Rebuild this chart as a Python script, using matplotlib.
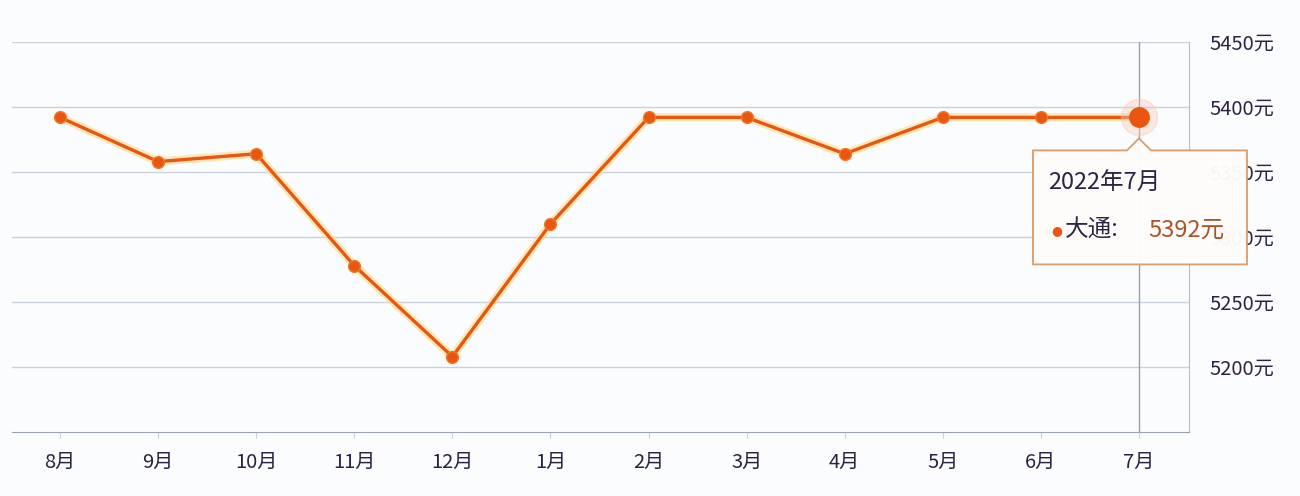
import matplotlib.pyplot as plt
from matplotlib.patches import Polygon

plt.rcParams['font.family'] = ['Noto Sans CJK SC', 'DejaVu Sans']

# ----------------------------------------------------------------
# data
# ----------------------------------------------------------------
months = ["8月", "9月", "10月", "11月", "12月", "1月",
          "2月", "3月", "4月", "5月", "6月", "7月"]
prices = [5392, 5358, 5364, 5278, 5208, 5310,
          5392, 5392, 5364, 5392, 5392, 5392]
y_ticks = [5200, 5250, 5300, 5350, 5400, 5450]
tip_title = "2022年7月"
tip_series = "大通"

line_c = "#e8560f"
text_c = "#2e2342"
bg = "#fbfcfe"

fig = plt.figure(figsize=(13, 4.96), dpi=100, facecolor=bg)
ax = fig.add_axes([12 / 1300, 64 / 496, 1177 / 1300, 390 / 496])
ax.set_facecolor(bg)

x = list(range(len(months)))

# glow + line + markers
ax.plot(x, prices, color="#ffd98a", lw=6, alpha=0.6, zorder=3,
        solid_capstyle="round")
ax.plot(x, prices, color=line_c, lw=2.4, marker="o", ms=8.5,
        mec="#f07a2a", mew=1, zorder=4)

# highlighted last point
last = len(x) - 1
ax.plot(last, prices[last], "o", ms=26, color="#f6c8b4", alpha=0.4, zorder=5)
ax.plot(last, prices[last], "o", ms=14, color=line_c, zorder=6)
ax.axvline(last, color="#9aa0ae", lw=1, zorder=2)

ax.set_xlim(-0.49, 11.51)
ax.set_ylim(5150, 5450)
ax.set_xticks(x)
ax.set_xticklabels(months)
ax.set_yticks(y_ticks)
ax.set_yticklabels([f"{v}元" for v in y_ticks])
ax.yaxis.tick_right()
ax.grid(axis="y", color="#c9d2dc", lw=1)
ax.set_axisbelow(True)

for s in ["top", "left"]:
    ax.spines[s].set_visible(False)
ax.spines["bottom"].set_color("#9aa3ad")
ax.spines["right"].set_color("#b8bec8")
ax.tick_params(axis="x", length=4, color="#c9d2dc", colors=text_c,
               labelsize=14.5, pad=10)
ax.tick_params(axis="y", length=0, colors=text_c, labelsize=14.5, pad=15)

# ----------------------------------------------------------------
# tooltip (covers part of the right-hand labels, as in the original)
# ----------------------------------------------------------------
fig.canvas.draw()
px, py = ax.transData.transform((last, prices[last]))
W, H = 1300, 496


def fig_pt(dx, dy):
    # offset in image pixels (down = positive) -> figure fraction
    return ((px + dx) / W, (py - dy) / H)


verts = [fig_pt(-106, 33), fig_pt(-12, 33), fig_pt(0, 21), fig_pt(12, 33),
         fig_pt(108, 33), fig_pt(108, 147), fig_pt(-106, 147)]
tip = Polygon(verts, closed=True, transform=fig.transFigure,
              facecolor="#fffdfb", edgecolor="#d99a66", lw=1.3,
              alpha=0.97, zorder=20)
fig.patches.append(tip)

fig.text(*fig_pt(-91, 66), tip_title, fontsize=17, color=text_c,
         va="center", ha="left", zorder=21)
fig.text(*fig_pt(-88, 113), "●", fontsize=9, color=line_c,
         va="center", ha="left", zorder=21, family="DejaVu Sans")
fig.text(*fig_pt(-74, 113), tip_series + ":", fontsize=17, color=text_c,
         va="center", ha="left", zorder=21)
fig.text(*fig_pt(9, 113), f"{prices[last]}元", fontsize=17,
         color="#a8552a", va="center", ha="left", zorder=21)

fig.savefig("out.png", dpi=100, facecolor=bg)
